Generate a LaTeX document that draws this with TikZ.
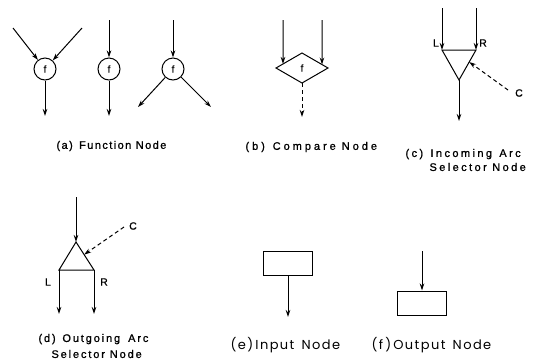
\documentclass[tikz,border=0pt]{standalone}
\usepackage{fontspec}
\setmainfont{Liberation Sans}[FakeBold=1]
\newfontfamily\capA[LetterSpace=13,FakeBold=1]{Liberation Sans}
\newfontfamily\capB[LetterSpace=27,FakeBold=1]{Liberation Sans}
\newfontfamily\capC[LetterSpace=22,FakeBold=1]{Liberation Sans}
\newfontfamily\capD[LetterSpace=17,FakeBold=1]{Liberation Sans}
\newfontfamily\capE[LetterSpace=11]{Poppins}
\usetikzlibrary{arrows.meta,calc}
\begin{document}
\begin{tikzpicture}[x=1pt,y=-1pt,
    line width=1pt,
    arc/.style={-{Stealth[length=7pt,width=4.5pt]}},
    ctl/.style={arc,dash pattern=on 4pt off 3pt},
    fnode/.style={circle,draw,minimum size=22pt,inner sep=0pt,font=\fontsize{10}{11}\selectfont},
    lbl/.style={font=\fontsize{10.5}{11}\selectfont},
    capt/.style={align=left,inner sep=0pt,anchor=west},
    box/.style={draw,minimum width=49pt,minimum height=24pt,inner sep=0pt}]
\useasboundingbox (0,0) rectangle (534,360);

% (a) function nodes
\node[fnode] (f1) at (45,69) {f};
\node[fnode] (f2) at (109,69) {f};
\node[fnode] (f3) at (173,69) {f};
\coordinate (f1a) at (13,28);
\coordinate (f1b) at (82,28);
\coordinate (f1o) at (45,116);
\coordinate (f2i) at (109,20);
\coordinate (f2o) at (109,116);
\coordinate (f3i) at (173,20);
\coordinate (f3l) at (138,107);
\coordinate (f3r) at (211,107);
\draw[arc] (f1a) -- (f1);
\draw[arc] (f1b) -- (f1);
\draw[arc] (f1) -- (f1o);
\draw[arc] (f2i) -- (f2);
\draw[arc] (f2) -- (f2o);
\draw[arc] (f3i) -- (f3);
\draw[arc] (f3) -- (f3l);
\draw[arc] (f3) -- (f3r);
\node[capt,font=\capA\fontsize{11}{14}\selectfont] (capa) at (56,146) {(a)\, Function Node};

% (b) compare node
\coordinate (dL) at (276,68);
\coordinate (dT) at (302,53);
\coordinate (dR) at (328,68);
\coordinate (dB) at (302,83);
\draw (dL) -- (dT) -- (dR) -- (dB) -- cycle;
\node[font=\fontsize{10}{11}\selectfont] (cf) at (302,68) {f};
\coordinate (b1) at (283,20);
\coordinate (b2) at (322,20);
\draw[arc] (b1) -- ($(dL)!7/26!(dT)$);
\draw[arc] (b2) -- ($(dT)!20/26!(dR)$);
\coordinate (bo) at (302,117);
\draw[ctl] (dB) -- (bo);
\node[capt,font=\capB\fontsize{11}{14}\selectfont] (capb) at (245,147) {(b)\, Compare Node};

% (c) incoming arc selector
\coordinate (cL) at (442,50);
\coordinate (cR) at (476,50);
\coordinate (cA) at (459,80);
\draw (cL) -- (cR) -- (cA) -- cycle;
\coordinate (cLi) at (442,8);
\coordinate (cRi) at (476,8);
\draw[arc] (cLi) -- (cL);
\draw[arc] (cRi) -- (cR);
\node[lbl] (lc) at (436,43) {L};
\node[lbl] (rc) at (483,43) {R};
\coordinate (cC) at (508,90);
\draw[ctl] (cC) -- ($(cR)!0.4!(cA)$);
\node[lbl] (Cc) at (519,93) {C};
\coordinate (co) at (459,121);
\draw[arc] (cA) -- (co);
\node[capt,font=\capC\fontsize{11}{14}\selectfont] (capc) at (405,160) {(c)\, Incoming\, Arc\\\hspace*{24pt}Selector Node};

% (d) outgoing arc selector
\coordinate (dA) at (76,242);
\coordinate (dLb) at (59,270);
\coordinate (dRb) at (94,270);
\draw (dA) -- (dRb) -- (dLb) -- cycle;
\coordinate (di) at (76,197);
\draw[arc] (di) -- (dA);
\coordinate (dLo) at (59,314);
\coordinate (dRo) at (94,314);
\draw[arc] (dLb) -- (dLo);
\draw[arc] (dRb) -- (dRo);
\node[lbl] (ld) at (48,282) {L};
\node[lbl] (rd) at (104,282) {R};
\coordinate (dC) at (124,227);
\draw[ctl] (dC) -- ($(dA)!0.45!(dRb)$);
\node[lbl] (Cd) at (133,226) {C};
\node[capt,font=\capD\fontsize{11}{16}\selectfont] (capd) at (38,346) {(d)\, Outgoing\; Arc\\\hspace*{13pt}Selector Node};

% (e) input node
\node[box] (inb) at (288,263) {};
\coordinate (ino) at (288,317);
\draw[arc] (inb) -- (ino);
\node[capt,font=\capE\fontsize{13}{15}\selectfont] (cape) at (230,345) {(e)\,Input\, Node};

% (f) output node
\node[box] (outb) at (422,303) {};
\coordinate (outi) at (422,251);
\draw[arc] (outi) -- (outb);
\node[capt,font=\capE\fontsize{13}{15}\selectfont] (capf) at (371,345) {(f\,)\,Output\, Node};
\end{tikzpicture}
\end{document}
